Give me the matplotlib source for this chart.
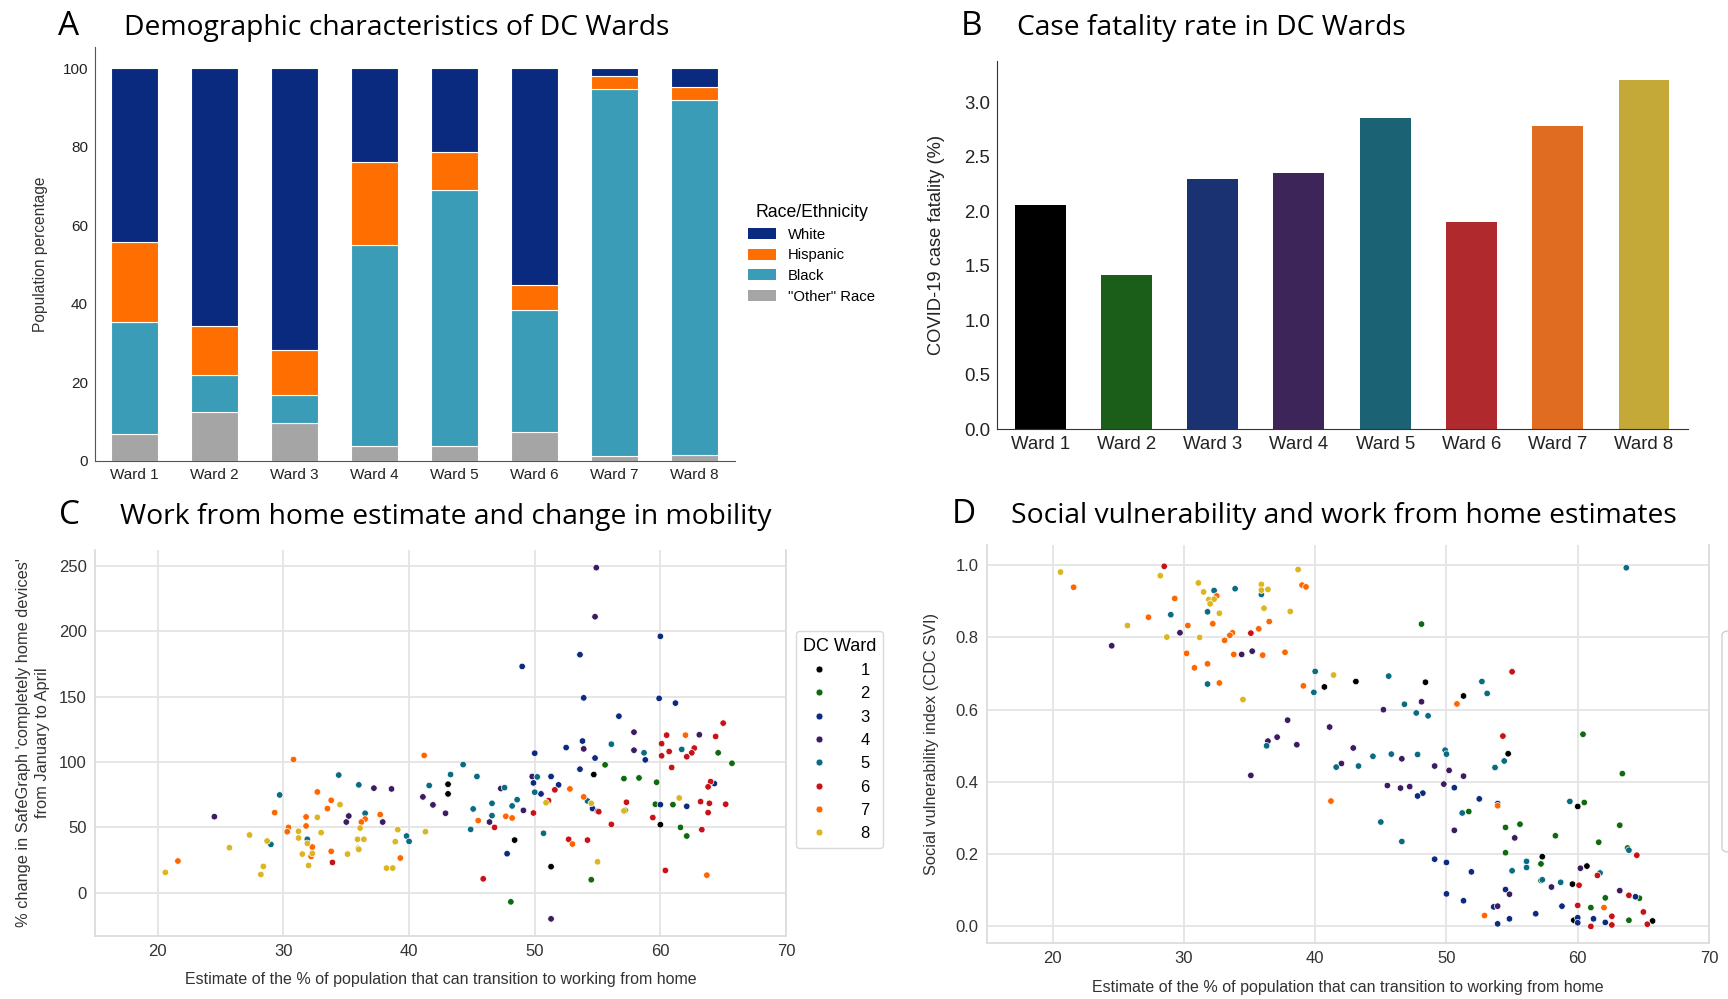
import colorsys
import matplotlib
matplotlib.use("Agg")
import matplotlib.pyplot as plt
import matplotlib.colors as mcolors
from matplotlib.lines import Line2D
from matplotlib.patches import Patch, FancyBboxPatch

plt.rcParams["font.family"] = ["Liberation Sans", "DejaVu Sans"]
TITLE_FONT = ["Open Sans", "DejaVu Sans"]

WARDS = ["Ward 1", "Ward 2", "Ward 3", "Ward 4", "Ward 5", "Ward 6", "Ward 7", "Ward 8"]

# population shares by race/ethnicity (%), stacked bottom to top
other_pct = [6.8, 12.6, 9.6, 3.7, 3.8, 7.3, 1.4, 1.5]
black_pct = [28.5, 9.3, 7.1, 51.4, 65.2, 31.2, 93.2, 90.4]
hispanic_pct = [20.5, 12.4, 11.6, 21.1, 9.6, 6.4, 3.3, 3.3]
white_pct = [44.2, 65.7, 71.7, 23.8, 21.4, 55.1, 2.1, 4.8]
race_labels = ["White", "Hispanic", "Black", '"Other" Race']
race_colors = ["#0a2a80", "#ff6e00", "#3a9cb7", "#a5a5a5"]

# COVID-19 case fatality (%) per ward
fatality_pct = [2.06, 1.41, 2.30, 2.35, 2.86, 1.90, 2.78, 3.21]

ward_palette = ["#000000", "#0f690f", "#0c2b80", "#3c1b62",
                "#0b6b83", "#c71217", "#ff6600", "#dbb621"]

# census tracts: work-from-home estimate vs change in home devices
c_wfh = [43.1, 43.1, 54.7, 48.4, 51.3, 60.0,
         64.6, 65.7, 55.6, 57.1, 58.3, 59.7, 59.6, 61.0, 57.2, 61.6, 62.1, 54.5, 48.1,
         60.0, 53.6, 49.0, 53.9, 59.9, 61.2, 56.7, 53.8, 52.5, 50.0, 54.8, 58.8, 53.6, 51.3,
         64.3, 49.9, 51.9, 50.5, 60.0, 62.1, 54.6, 47.8,
         54.9, 54.8, 57.9, 63.1, 53.9, 57.9, 49.8, 37.2, 38.6, 47.3, 41.1, 41.9, 55.0, 49.1,
         42.9, 24.5, 35.2, 35.0, 37.9, 46.4, 51.3,
         56.1, 58.7, 61.7, 44.3, 34.4, 43.3, 45.4, 50.2, 41.6, 36.0, 47.6, 29.7, 50.0, 48.6,
         54.2, 46.6, 48.2, 45.1, 36.5, 46.6, 44.9, 50.7, 39.8, 31.9, 40.0, 29.0,
         65.0, 60.5, 64.4, 60.1, 62.7, 60.7, 62.5, 60.1, 62.1, 60.9, 64.0, 51.6, 63.8, 51.1,
         57.3, 63.2, 63.9, 65.2, 55.1, 63.8, 49.9, 59.4, 56.1, 46.8, 63.3, 52.7, 54.2, 33.9,
         60.4, 45.9,
         62.0, 30.8, 41.2, 52.8, 32.7, 53.9, 33.8, 33.5, 29.3, 37.7, 31.8, 47.7, 48.2, 36.5,
         45.5, 36.2, 31.8, 30.4, 30.3, 53.0, 32.3, 33.8, 32.2, 39.3, 21.6, 63.7,
         61.5, 50.9, 54.5, 34.5, 57.1, 32.7, 39.1, 36.1, 31.2, 33.0, 41.3, 27.3, 31.2, 35.9,
         36.4, 28.7, 38.9, 31.9, 25.7, 35.95, 36.0, 31.5, 35.1, 32.3, 55.0, 32.0, 28.4, 38.2,
         38.7, 20.6, 28.2]
c_change = [83.0, 75.6, 90.4, 40.3, 20.0, 52.1,
            107, 99, 97.8, 87.3, 87.8, 84.5, 67.7, 67.4, 63.0, 50.0, 43.4, 10.0, -6.9,
            196, 182, 173, 149, 148.6, 145, 135, 116, 111, 106.7, 103, 101.6, 94.5, 88.9,
            83.5, 84, 82.5, 75.6, 67.4, 66.1, 64.4, 29.9,
            248.5, 211, 122.8, 120.8, 110, 109, 88.9, 80, 79.4, 79.7, 73.3, 67.2, 62.3, 63.0,
            60.8, 58.2, 58.7, 54.1, 54.1, 54.1, -19.9,
            113.6, 107, 109.6, 98, 90, 90.4, 88.9, 88.6, 82, 82.5, 80.4, 74.8, 76.9, 71.2,
            70.2, 68.4, 66.4, 64.1, 60.8, 59.0, 48.5, 45.5, 43.4, 40.9, 39.3, 37.0,
            129.7, 120.5, 119.5, 114, 110.6, 108, 107, 104.7, 104, 95.8, 85, 78.7, 81, 70.5,
            69.2, 69.7, 68.4, 67.7, 62.0, 61.3, 61.0, 57.5, 52.3, 50.0, 48.3, 40.9, 40.3, 23.2,
            17.1, 10.7,
            120.5, 101.9, 105, 79.4, 77.1, 73.3, 70.7, 64.4, 61.3, 59.8, 58.0, 58.5, 57.2, 56.4,
            55.2, 54.1, 51.1, 50.0, 46.7, 37.3, 35.0, 31.7, 27.8, 26.6, 24.3, 13.5,
            72.5, 68.9, 68.4, 67.4, 62.6, 57.7, 48.3, 49.5, 47.0, 46.0, 46.7, 44.2, 41.9, 40.9,
            40.9, 39.6, 39.1, 37.8, 34.5, 34.0, 33.2, 29.6, 29.6, 30.1, 23.7, 20.9, 20.2, 18.9,
            18.9, 15.6, 14.0]
c_ward = [1] * 6 + [2] * 13 + [3] * 22 + [4] * 21 + [5] * 26 + [6] * 30 + [7] * 26 + [8] * 31

# census tracts: work-from-home estimate vs CDC social vulnerability index
d_wfh = [43.1, 48.4, 40.7, 51.3, 54.7, 60.0, 57.3, 60.7, 59.6, 59.7, 65.7,
         48.1, 60.4, 63.4, 60.5, 51.7, 63.2, 55.6, 54.5, 58.3, 61.6, 63.8, 54.5, 57.2, 57.2,
         62.1, 64.7, 61.0, 63.9,
         50.6, 48.2, 47.8, 52.5, 53.9, 49.1, 50.0, 51.9, 54.5, 50.0, 64.4, 51.3, 58.8, 53.6,
         56.8, 54.8, 61.2, 60.0, 62.1, 60.0, 53.9,
         29.7, 24.5, 35.2, 34.4, 48.1, 45.2, 37.9, 41.1, 37.1, 36.4, 38.6, 42.9, 46.6, 42.0,
         49.1, 50.2, 35.1, 51.3, 45.5, 49.8, 46.5, 47.2, 50.6, 55.2, 60.2, 58.0, 63.2, 54.8,
         53.9,
         63.7, 32.3, 33.9, 35.9, 31.8, 29.0, 40.0, 45.6, 52.7, 31.8, 53.1, 39.9, 46.8, 47.7,
         48.6, 36.3, 49.9, 50.0, 45.8, 47.8, 44.4, 54.4, 43.3, 41.6, 53.7, 59.4, 51.2, 45.0,
         46.6, 63.9, 56.1, 56.1, 55.0, 61.7, 57.3, 58.7,
         28.5, 35.1, 55.0, 54.3, 64.5, 61.5, 60.1, 63.9, 60.0, 65.0, 62.6, 65.3, 62.6, 61.0,
         21.6, 39.0, 39.3, 32.5, 29.3, 27.3, 36.5, 32.2, 30.3, 35.7, 33.7, 33.5, 33.1, 37.7,
         30.2, 33.8, 36.0, 31.8, 30.8, 32.7, 39.1, 50.8, 41.2, 53.9, 62.0, 52.9,
         20.6, 28.2, 31.1, 38.7, 35.9, 31.5, 35.9, 36.4, 31.9, 32.3, 32.0, 36.1, 38.1, 32.7,
         25.7, 28.7, 31.2, 41.4, 34.5]
d_svi = [0.678, 0.676, 0.663, 0.638, 0.478, 0.332, 0.193, 0.167, 0.117, 0.017, 0.015,
         0.837, 0.532, 0.423, 0.343, 0.318, 0.280, 0.283, 0.274, 0.251, 0.233, 0.217, 0.204,
         0.173, 0.127, 0.079, 0.078, 0.052, 0.017,
         0.384, 0.369, 0.361, 0.353, 0.340, 0.186, 0.177, 0.151, 0.102, 0.090, 0.082, 0.071,
         0.056, 0.054, 0.035, 0.021, 0.021, 0.024, 0.011, 0.010, 0.007,
         0.813, 0.777, 0.762, 0.753, 0.622, 0.600, 0.571, 0.552, 0.524, 0.513, 0.503, 0.494,
         0.464, 0.451, 0.444, 0.432, 0.418, 0.416, 0.390, 0.394, 0.383, 0.387, 0.266, 0.245,
         0.161, 0.109, 0.099, 0.089, 0.056,
         0.993, 0.930, 0.935, 0.919, 0.871, 0.863, 0.706, 0.693, 0.678, 0.671, 0.645, 0.648,
         0.615, 0.591, 0.583, 0.500, 0.488, 0.477, 0.477, 0.476, 0.471, 0.458, 0.444, 0.441,
         0.440, 0.346, 0.314, 0.289, 0.235, 0.211, 0.180, 0.163, 0.154, 0.148, 0.129, 0.122,
         0.997, 0.812, 0.705, 0.527, 0.197, 0.141, 0.114, 0.086, 0.058, 0.040, 0.028, 0.006,
         0.004, 0.000,
         0.939, 0.945, 0.940, 0.915, 0.908, 0.856, 0.844, 0.838, 0.833, 0.824, 0.813, 0.806,
         0.792, 0.759, 0.756, 0.753, 0.751, 0.727, 0.716, 0.674, 0.666, 0.616, 0.347, 0.334,
         0.052, 0.030,
         0.981, 0.971, 0.951, 0.988, 0.947, 0.926, 0.931, 0.933, 0.905, 0.906, 0.893, 0.881,
         0.872, 0.867, 0.833, 0.801, 0.800, 0.696, 0.628]
d_ward = [1] * 11 + [2] * 18 + [3] * 21 + [4] * 29 + [5] * 36 + [6] * 14 + [7] * 26 + [8] * 19


def desaturate(color, prop):
    h, l, s = colorsys.rgb_to_hls(*mcolors.to_rgb(color))
    return colorsys.hls_to_rgb(h, l, s * prop)


def fig_box(left, top, right, bottom, W=1728, H=999):
    # pixel box -> figure fraction rect
    return [left / W, 1 - bottom / H, (right - left) / W, (bottom - top) / H]


def panel_title(x_letter, x_text, y, letter, text):
    fig.text(x_letter / 1728, 1 - y / 999, letter, fontsize=24, family=TITLE_FONT, va="baseline")
    fig.text(x_text / 1728, 1 - y / 999, text, fontsize=20.3, family=TITLE_FONT, va="baseline")


def ward_scatter(ax, xs, ys, wards):
    cols = [ward_palette[w - 1] for w in wards]
    ax.scatter(xs, ys, s=22, c=cols, edgecolors="white", linewidths=0.5, zorder=3)
    ax.set_xlim(15, 70)
    ax.set_xticks([20, 30, 40, 50, 60, 70])
    ax.grid(True, color="#e4e4e4", linewidth=1.3, zorder=0)
    ax.set_axisbelow(True)
    ax.spines["top"].set_visible(False)
    for side in ("left", "bottom", "right"):
        ax.spines[side].set_color("#dcdcdc")
        ax.spines[side].set_linewidth(1.3)
    ax.tick_params(length=0, labelsize=12, colors="#333333", pad=6)
    ax.set_xlabel("Estimate of the % of population that can transition to working from home",
                  fontsize=11.5, color="#333333")


def ward_legend(ax, x_px):
    handles = [Line2D([], [], marker="o", linestyle="", markersize=5, markerfacecolor=c,
                      markeredgecolor="white", markeredgewidth=0.5) for c in ward_palette]
    leg = ax.legend(handles, [str(i) for i in range(1, 9)], title="DC Ward", loc="upper left",
                    bbox_to_anchor=(x_px / 1728, 1 - 631 / 999), bbox_transform=fig.transFigure,
                    borderaxespad=0, fontsize=12, title_fontsize=13, handlelength=1.2,
                    handletextpad=1.9, labelspacing=0.5, frameon=True, fancybox=True,
                    edgecolor="#d0d0d0", borderpad=0.4)
    leg.get_frame().set_linewidth(1.0)
    return leg


fig = plt.figure(figsize=(17.28, 9.99), dpi=100)

# A: stacked population shares
axA = fig.add_axes(fig_box(95, 47, 735, 461))
x = range(len(WARDS))
bottom = [0] * len(WARDS)
stack = [(other_pct, race_colors[3]), (black_pct, race_colors[2]),
         (hispanic_pct, race_colors[1]), (white_pct, race_colors[0])]
for vals, col in stack:
    axA.bar(x, vals, width=0.59, bottom=bottom, color=col, edgecolor="white", linewidth=0.8)
    bottom = [b + v for b, v in zip(bottom, vals)]
axA.set_xlim(-0.49, 7.51)
axA.set_ylim(0, 105.4)
axA.set_xticks(list(x))
axA.set_xticklabels(WARDS)
axA.set_yticks([0, 20, 40, 60, 80, 100])
axA.tick_params(length=0, labelsize=11, colors="#222222", pad=5)
for side in ("top", "right"):
    axA.spines[side].set_visible(False)
for side in ("left", "bottom"):
    axA.spines[side].set_color("#555555")
axA.set_ylabel("Population percentage", fontsize=11.2, color="#333333")
axA.yaxis.set_label_coords(-0.085, 0.5)
axA.yaxis.label.set_verticalalignment("center")
race_handles = [Patch(facecolor=c, edgecolor="none") for c in race_colors]
axA.legend(race_handles, race_labels, title="Race/Ethnicity", loc="upper left",
           bbox_to_anchor=(748 / 1728, 1 - 204 / 999), bbox_transform=fig.transFigure,
           frameon=False, borderpad=0, borderaxespad=0, fontsize=10.7, title_fontsize=12.7,
           handlelength=1.9, handleheight=0.75, handletextpad=0.8, labelspacing=0.45)
panel_title(58, 124, 35, "A", "Demographic characteristics of DC Wards")

# B: case fatality
axB = fig.add_axes(fig_box(997, 61, 1688, 429))
axB.bar(range(len(WARDS)), fatality_pct, width=0.59,
        color=[desaturate(c, 0.75) for c in ward_palette])
axB.set_xlim(-0.5, 7.51)
axB.set_ylim(0, 3.38)
axB.set_xticks(range(len(WARDS)))
axB.set_xticklabels(WARDS)
axB.set_yticks([0, 0.5, 1.0, 1.5, 2.0, 2.5, 3.0])
axB.set_yticklabels(["%.1f" % v for v in [0, 0.5, 1.0, 1.5, 2.0, 2.5, 3.0]])
axB.tick_params(length=0, labelsize=13.4, colors="#222222", pad=5)
for side in ("top", "right"):
    axB.spines[side].set_visible(False)
for side in ("left", "bottom"):
    axB.spines[side].set_color("#333333")
axB.set_ylabel("COVID-19 case fatality (%)", fontsize=13.2, color="#222222")
axB.yaxis.set_label_coords(-0.088, 0.5)
axB.yaxis.label.set_verticalalignment("center")
panel_title(961, 1017, 35, "B", "Case fatality rate in DC Wards")

# C: work from home vs mobility change
axC = fig.add_axes(fig_box(95, 550, 786, 936))
ward_scatter(axC, c_wfh, c_change, c_ward)
axC.set_ylim(-33, 262)
axC.set_yticks([0, 50, 100, 150, 200, 250])
axC.set_ylabel("% change in SafeGraph 'completely home devices'\nfrom January to April",
               fontsize=11.8, color="#333333", linespacing=1.3)
axC.yaxis.set_label_coords(-0.09, 0.5)
axC.yaxis.label.set_verticalalignment("center")
axC.xaxis.set_label_coords(0.5, -0.112)
axC.xaxis.label.set_verticalalignment("center")
ward_legend(axC, 796)
panel_title(59, 120, 524, "C", "Work from home estimate and change in mobility")

# D: work from home vs social vulnerability
axD = fig.add_axes(fig_box(987, 545, 1709, 943))
ward_scatter(axD, d_wfh, d_svi, d_ward)
axD.set_ylim(-0.046, 1.056)
axD.set_yticks([0, 0.2, 0.4, 0.6, 0.8, 1.0])
axD.set_yticklabels(["%.1f" % v for v in [0, 0.2, 0.4, 0.6, 0.8, 1.0]])
axD.set_ylabel("Social vulnerability index (CDC SVI)", fontsize=11.8, color="#333333")
axD.yaxis.set_label_coords(-0.077, 0.5)
axD.yaxis.label.set_verticalalignment("center")
axD.xaxis.set_label_coords(0.5, -0.113)
axD.xaxis.label.set_verticalalignment("center")
# D's ward legend box runs off the right edge; only its frame shows
fig.add_artist(FancyBboxPatch((1722 / 1728, 1 - 852 / 999), 60 / 1728, 221 / 999,
                              boxstyle="round,pad=0,rounding_size=0.004",
                              transform=fig.transFigure, facecolor="white",
                              edgecolor="#d0d0d0", linewidth=1.0))
panel_title(952, 1011, 523, "D", "Social vulnerability and work from home estimates")

fig.savefig("out.png", dpi=100)
